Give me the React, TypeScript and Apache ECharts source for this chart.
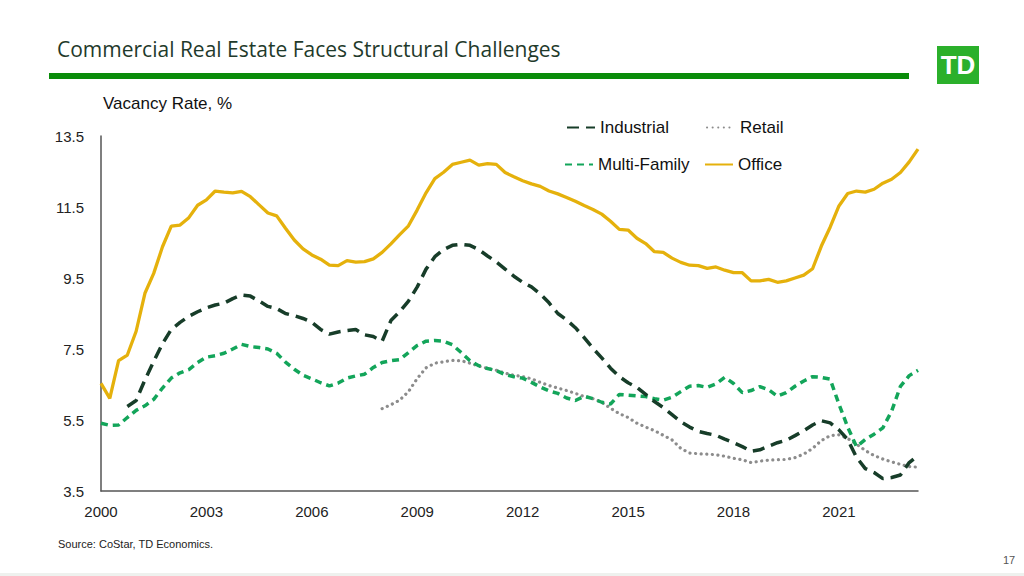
import React, { useEffect, useRef } from "react";
import * as echarts from "echarts";

// Quarterly categories, 2000Q1 .. 2023Q2
const quarters: string[] = [];
for (let y = 2000; y <= 2023; y++) {
  for (let q = 1; q <= 4; q++) quarters.push(`${y}Q${q}`);
}
quarters.length = 94;

const yearTicks = ["2000", "2003", "2006", "2009", "2012", "2015", "2018", "2021"];

const industrial: (number | null)[] = [
  null, null, null, 5.88, 6.05, 6.63, 7.15, 7.65, 8.05, 8.25,
  8.42, 8.55, 8.66, 8.74, 8.79, 8.92, 9.02, 8.99, 8.85, 8.7,
  8.64, 8.5, 8.44, 8.36, 8.25, 8.05, 7.92, 7.98, 8.02, 8.05,
  7.9, 7.85, 7.72, 8.3, 8.55, 8.85, 9.25, 9.75, 10.1, 10.3,
  10.42, 10.45, 10.42, 10.3, 10.12, 9.95, 9.75, 9.55, 9.38, 9.25,
  9.05, 8.8, 8.5, 8.32, 8.1, 7.82, 7.52, 7.25, 6.96, 6.72,
  6.55, 6.42, 6.22, 6.02, 5.85, 5.65, 5.45, 5.3, 5.18, 5.12,
  5.07, 4.96, 4.86, 4.75, 4.62, 4.66, 4.76, 4.86, 4.93, 5.06,
  5.2, 5.36, 5.48, 5.42, 5.22, 4.95, 4.45, 4.13, 4.02, 3.85,
  3.88, 3.95, 4.3, 4.5,
];

const retail: (number | null)[] = [
  null, null, null, null, null, null, null, null, null, null,
  null, null, null, null, null, null, null, null, null, null,
  null, null, null, null, null, null, null, null, null, null,
  null, null, 5.82, 5.93, 6.06, 6.3, 6.67, 6.97, 7.1, 7.14,
  7.18, 7.17, 7.1, 7.02, 6.95, 6.9, 6.82, 6.76, 6.72, 6.66,
  6.56, 6.47, 6.4, 6.33, 6.25, 6.16, 6.1, 6.0, 5.83, 5.68,
  5.57, 5.41, 5.3, 5.2, 5.07, 4.94, 4.7, 4.57, 4.55, 4.54,
  4.52, 4.48, 4.42, 4.38, 4.3, 4.34, 4.37, 4.38, 4.39, 4.44,
  4.54, 4.7, 4.92, 5.06, 5.08, 4.98, 4.82, 4.64, 4.5, 4.4,
  4.32, 4.25, 4.19, 4.17,
];

const multiFamily: number[] = [
  5.41, 5.35, 5.36, 5.57, 5.77, 5.9, 6.08, 6.4, 6.68, 6.83,
  6.92, 7.12, 7.27, 7.31, 7.38, 7.5, 7.63, 7.57, 7.54, 7.5,
  7.38, 7.13, 6.93, 6.76, 6.66, 6.55, 6.46, 6.54, 6.68, 6.74,
  6.79, 6.98, 7.12, 7.17, 7.2, 7.4, 7.6, 7.72, 7.74, 7.72,
  7.62, 7.4, 7.17, 7.03, 6.95, 6.89, 6.78, 6.72, 6.68, 6.56,
  6.43, 6.32, 6.25, 6.12, 6.05, 6.17, 6.1, 6.0, 5.95, 6.22,
  6.2, 6.18, 6.16, 6.1, 6.06, 6.14, 6.3, 6.45, 6.47, 6.42,
  6.52, 6.7, 6.53, 6.27, 6.33, 6.44, 6.35, 6.17, 6.27, 6.45,
  6.6, 6.72, 6.7, 6.65, 5.95, 5.3, 4.75, 4.95, 5.1, 5.28,
  5.75, 6.45, 6.75, 6.9,
];

const office: number[] = [
  6.53, 6.11, 7.17, 7.33, 8.0, 9.07, 9.63, 10.38, 10.96, 10.99,
  11.2, 11.55, 11.7, 11.95, 11.92, 11.9, 11.94, 11.79, 11.56, 11.33,
  11.25, 10.9, 10.57, 10.32, 10.15, 10.03, 9.86, 9.85, 9.99, 9.95,
  9.96, 10.04, 10.22, 10.46, 10.72, 10.97, 11.42, 11.9, 12.3, 12.48,
  12.7, 12.76, 12.82, 12.68, 12.72, 12.7, 12.47, 12.35, 12.24, 12.15,
  12.08, 11.95, 11.87, 11.77, 11.66, 11.54, 11.43, 11.3, 11.1, 10.87,
  10.85, 10.62, 10.47, 10.24, 10.22, 10.06, 9.94, 9.86, 9.85, 9.77,
  9.81, 9.72, 9.65, 9.65, 9.42, 9.42, 9.46, 9.38, 9.42, 9.5,
  9.58, 9.76, 10.4, 10.93, 11.53, 11.88, 11.95, 11.92, 12.0, 12.17,
  12.28, 12.47, 12.77, 13.13,
];

const FONT = "'Liberation Sans', Arial, sans-serif";

export default function App() {
  const ref = useRef<HTMLDivElement>(null);

  useEffect(() => {
    if (!ref.current) return;
    const chart = echarts.init(ref.current, undefined, { renderer: "svg" });

    const legendItem = (name: string, left: number, top: number) => ({
      left,
      top,
      padding: 0,
      itemWidth: 28,
      itemHeight: 14,
      itemStyle: { opacity: 0 },
      textStyle: { fontFamily: FONT, fontSize: 17, color: "#111" },
      data: [name],
    });

    chart.setOption({
      animation: false,
      backgroundColor: "#ffffff",
      grid: {
        left: 101,
        right: 106,
        top: 136,
        bottom: 85,
        containLabel: false,
        outerBoundsMode: "none",
      },
      legend: [
        legendItem("Industrial", 566, 119),
        legendItem("Retail", 706, 119),
        legendItem("Multi-Family", 564, 156),
        legendItem("Office", 704, 156),
      ],
      xAxis: {
        type: "category",
        data: quarters,
        boundaryGap: false,
        axisLine: { show: true, lineStyle: { color: "#555", width: 1.5 } },
        axisTick: { show: false },
        splitLine: { show: false },
        axisLabel: {
          interval: (i: number) => i % 12 === 0,
          formatter: (_v: string, i: number) => yearTicks[i / 12] ?? "",
          fontFamily: FONT,
          fontSize: 15,
          color: "#222",
          margin: 13,
        },
      },
      yAxis: {
        type: "value",
        min: 3.5,
        max: 13.5,
        interval: 2,
        axisLine: { show: true, lineStyle: { color: "#555", width: 1.5 } },
        axisTick: { show: false },
        splitLine: { show: false },
        axisLabel: {
          fontFamily: FONT,
          fontSize: 15,
          color: "#222",
          margin: 17,
          formatter: (v: number) => v.toFixed(1),
        },
      },
      series: [
        {
          name: "Industrial",
          type: "line",
          data: industrial,
          symbol: "none",
          connectNulls: false,
          lineStyle: { color: "#173d29", width: 3.5, type: [12, 7], cap: "butt" },
          itemStyle: { color: "#173d29" },
          z: 4,
        },
        {
          name: "Retail",
          type: "line",
          data: retail,
          symbol: "none",
          lineStyle: { color: "#8c8c8c", width: 3.2, type: [0.1, 5.5], cap: "round" },
          itemStyle: { color: "#8c8c8c" },
          z: 2,
        },
        {
          name: "Multi-Family",
          type: "line",
          data: multiFamily,
          symbol: "none",
          lineStyle: { color: "#13a55a", width: 3.5, type: [7, 5], cap: "butt" },
          itemStyle: { color: "#13a55a" },
          z: 3,
        },
        {
          name: "Office",
          type: "line",
          data: office,
          symbol: "none",
          lineStyle: { color: "#e5b10c", width: 3.3 },
          itemStyle: { color: "#e5b10c" },
          z: 5,
        },
      ],
      graphic: [
        {
          type: "text",
          left: 57,
          top: 38,
          style: {
            text: "Commercial Real Estate Faces Structural Challenges",
            font: "21px 'Open Sans', sans-serif",
            fill: "#1f3a2b",
          },
        },
        {
          type: "rect",
          shape: { x: 49, y: 73, width: 860, height: 6 },
          style: { fill: "#0a8c0a" },
        },
        {
          type: "rect",
          shape: { x: 937, y: 46, width: 42, height: 38 },
          style: { fill: "#2bb02b" },
        },
        {
          type: "text",
          x: 958,
          y: 65,
          style: {
            text: "TD",
            font: "bold 26px 'Liberation Sans Narrow', 'Liberation Sans', sans-serif",
            fill: "#ffffff",
            align: "center",
            verticalAlign: "middle",
          },
        },
        {
          type: "text",
          left: 103,
          top: 95,
          style: {
            text: "Vacancy Rate, %",
            font: `17px ${FONT}`,
            fill: "#111",
          },
        },
        {
          type: "text",
          left: 58,
          top: 538,
          style: {
            text: "Source: CoStar, TD Economics.",
            font: `11px ${FONT}`,
            fill: "#222",
          },
        },
        {
          type: "text",
          left: 1003,
          top: 554,
          style: {
            text: "17",
            font: `11px ${FONT}`,
            fill: "#555",
          },
        },
        {
          type: "rect",
          shape: { x: 0, y: 573, width: 1024, height: 3 },
          style: { fill: "#eef1ee" },
        },
      ],
    });

    return () => chart.dispose();
  }, []);

  return (
    <div
      ref={ref}
      style={{ position: "fixed", left: 0, top: 0, width: 1024, height: 576 }}
    />
  );
}
